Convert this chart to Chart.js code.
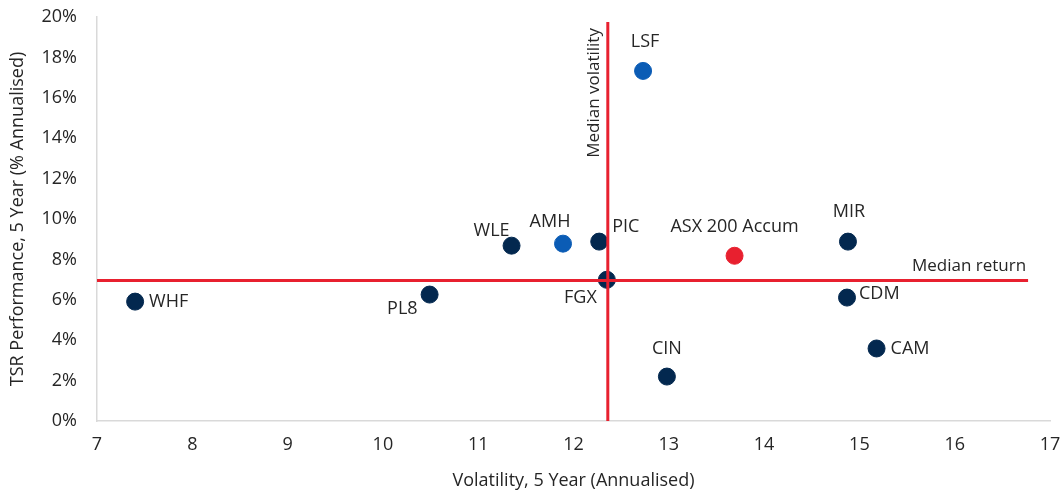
<!DOCTYPE html>
<html>
<head>
<meta charset="utf-8">
<script src="https://cdn.jsdelivr.net/npm/chart.js@4/dist/chart.umd.min.js"></script>
<style>
  html, body { margin: 0; padding: 0; background: #fff; }
  #wrap { width: 1064px; height: 494px; }
</style>
</head>
<body>
<div id="wrap"><canvas id="chart"></canvas></div>
<script>
// Chart data
const tickers    = ['WHF', 'PL8', 'WLE', 'AMH', 'PIC', 'FGX', 'LSF', 'CIN', 'ASX 200 Accum', 'MIR', 'CDM', 'CAM'];
const volatility = [7.40, 10.49, 11.35, 11.89, 12.27, 12.35, 12.73, 12.98, 13.69, 14.88, 14.87, 15.18];
const tsrReturn  = [5.91, 6.26, 8.68, 8.78, 8.88, 6.99, 17.33, 2.20, 8.18, 8.88, 6.11, 3.59];
const groups     = ['peer', 'peer', 'peer', 'own', 'peer', 'peer', 'own', 'peer', 'index', 'peer', 'peer', 'peer'];

const medianVolatility = 12.36;
const medianReturn = 6.95;
const volLineRange = [0, 19.75];     // vertical line y extent
const retLineRange = [7, 16.77];     // horizontal line x extent

const xTicks = [7, 8, 9, 10, 11, 12, 13, 14, 15, 16, 17];
const yTicks = [0, 2, 4, 6, 8, 10, 12, 14, 16, 18, 20];

// styling
const colours = { peer: '#03284f', own: '#0b5cb5', index: '#e8202f' };
const RED = '#e8202f';
const TEXT = '#262626';
const FONT = '"Open Sans", "Liberation Sans", Arial, sans-serif';

// label offsets from each point [dx, dy, align]
const labelOffsets = [
    [14, 0, 'left'], [-12, 14, 'right'], [-2, -15, 'right'], [-13, -22, 'center'],
    [13, -15, 'left'], [-10, 18, 'right'], [2, -29, 'center'], [0, -28, 'center'],
    [0, -29, 'center'], [1, -30, 'center'], [12, -4, 'left'], [14, 0, 'left']
];

const points = volatility.map((v, i) => ({ x: v, y: tsrReturn[i] }));

/**
 * Draws point labels and median line captions
 */
const labelPlugin = {
    id: 'pointLabels',
    afterDatasetsDraw(chart) {
        const ctx = chart.ctx;
        const xs = chart.scales.x, ys = chart.scales.y;
        ctx.save();
        ctx.fillStyle = TEXT;
        ctx.font = '18px ' + FONT;
        ctx.textBaseline = 'middle';
        const meta = chart.getDatasetMeta(2);
        meta.data.forEach((pt, i) => {
            const off = labelOffsets[i];
            ctx.textAlign = off[2];
            ctx.fillText(tickers[i], pt.x + off[0], pt.y + off[1]);
        });

        // median captions
        ctx.font = '17px ' + FONT;
        ctx.textAlign = 'right';
        ctx.fillText('Median return', xs.getPixelForValue(retLineRange[1]) - 2, ys.getPixelForValue(medianReturn) - 14);

        ctx.translate(xs.getPixelForValue(medianVolatility) - 14, ys.getPixelForValue(volLineRange[1]) + 6);
        ctx.rotate(-Math.PI / 2);
        ctx.textAlign = 'right';
        ctx.fillText('Median volatility', 0, 0);
        ctx.restore();
    }
};

new Chart(document.getElementById('chart'), {
    type: 'scatter',
    data: {
        datasets: [
            {
                label: 'Median volatility',
                type: 'line',
                data: volLineRange.map(y => ({ x: medianVolatility, y: y })),
                borderColor: RED,
                borderWidth: 3,
                pointRadius: 0,
                order: 0
            },
            {
                label: 'Median return',
                type: 'line',
                data: retLineRange.map(x => ({ x: x, y: medianReturn })),
                borderColor: RED,
                borderWidth: 3,
                pointRadius: 0,
                order: 0
            },
            {
                label: 'Funds',
                data: points,
                backgroundColor: groups.map(g => colours[g]),
                borderColor: groups.map(g => colours[g]),
                pointRadius: 8.5,
                pointHoverRadius: 8.5,
                order: 1
            }
        ]
    },
    options: {
        responsive: true,
        maintainAspectRatio: false,
        animation: false,
        events: [],
        layout: { padding: { top: 17, right: 14, bottom: 2, left: 0 } },
        plugins: {
            legend: { display: false },
            tooltip: { enabled: false }
        },
        scales: {
            x: {
                type: 'linear',
                min: xTicks[0],
                max: xTicks[xTicks.length - 1],
                afterBuildTicks: s => { s.ticks = xTicks.map(v => ({ value: v })); },
                afterFit: s => { s.height = 71; s.paddingLeft = 0; s.paddingRight = 0; },
                grid: { display: false, drawTicks: false },
                border: { display: true, color: '#d9d9d9', width: 1.5 },
                ticks: { color: TEXT, font: { size: 18, family: FONT }, padding: 13 },
                title: {
                    display: true,
                    text: 'Volatility, 5 Year (Annualised)',
                    color: TEXT,
                    font: { size: 18, family: FONT },
                    padding: { top: 4, bottom: 0 }
                }
            },
            y: {
                type: 'linear',
                min: 0,
                max: 20,
                afterBuildTicks: s => { s.ticks = yTicks.map(v => ({ value: v })); },
                afterFit: s => { s.width = 97; s.paddingTop = 0; s.paddingBottom = 0; },
                grid: { display: false, drawTicks: false },
                border: { display: true, color: '#d9d9d9', width: 1.5 },
                ticks: {
                    color: TEXT,
                    font: { size: 18, family: FONT },
                    padding: 20,
                    callback: v => v + '%'
                },
                title: {
                    display: true,
                    text: 'TSR Performance, 5 Year (% Annualised)',
                    color: TEXT,
                    font: { size: 18, family: FONT },
                    padding: { top: 7, bottom: 4 }
                }
            }
        }
    },
    plugins: [labelPlugin]
});
</script>
</body>
</html>
